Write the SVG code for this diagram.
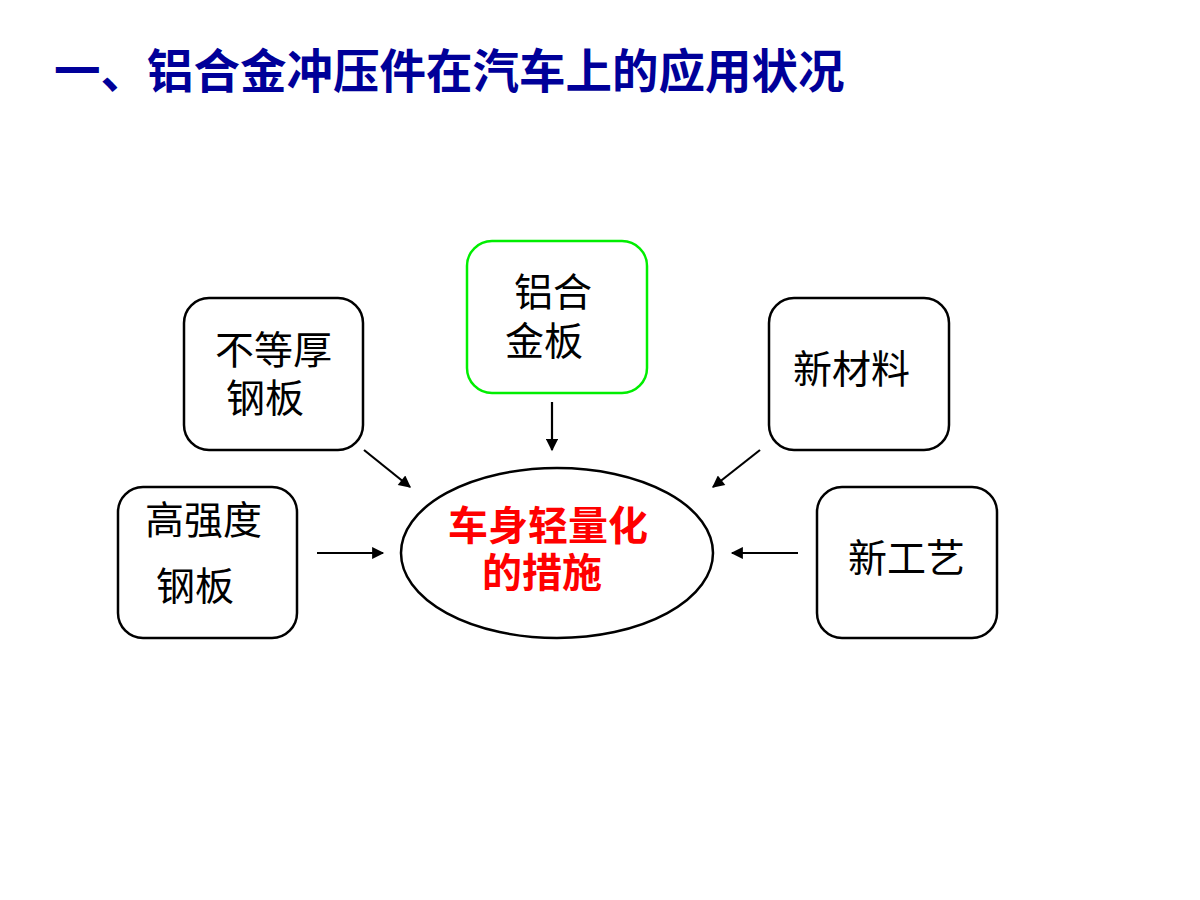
<svg xmlns="http://www.w3.org/2000/svg" width="1200" height="900" viewBox="0 0 1200 900">
<style>
.box{fill:#fff;stroke:#000;stroke-width:2.5}
.green{stroke:#00ee00}
.lbl{font-family:"Noto Sans CJK SC","Liberation Sans",sans-serif;font-size:39px;fill:#000}
.hub{font-family:"Noto Sans CJK SC","Liberation Sans",sans-serif;font-size:40px;font-weight:bold;fill:#ff0000}
.title{font-family:"Noto Sans CJK SC","Liberation Sans",sans-serif;font-size:46.5px;font-weight:bold;fill:#000099}
.conn{stroke:#000;stroke-width:2.2;fill:none;marker-end:url(#ah)}
</style>
<defs>
<marker id="ah" viewBox="0 0 10 10" refX="9" refY="5" markerWidth="6" markerHeight="5.5" orient="auto" markerUnits="strokeWidth">
<path d="M0,0 L10,5 L0,10 z" fill="#000"/>
</marker>
</defs>
<rect width="1200" height="900" fill="#fff"/>
<text class="title" x="54" y="88">一、铝合金冲压件在汽车上的应用状况</text>
<g id="connectors">
<line class="conn" x1="364" y1="450" x2="410" y2="487"/>
<line class="conn" x1="552" y1="402" x2="552" y2="450"/>
<line class="conn" x1="760" y1="450" x2="713" y2="487"/>
<line class="conn" x1="317" y1="553" x2="383" y2="553"/>
<line class="conn" x1="798" y1="553" x2="732" y2="553"/>
</g>
<g id="hub">
<ellipse cx="557" cy="553" rx="156" ry="85" fill="#fff" stroke="#000" stroke-width="2.5"/>
<text class="hub"><tspan x="448" y="540">车身轻量化</tspan><tspan x="482" y="587">的措施</tspan></text>
</g>
<g id="n-budenghou">
<rect class="box" x="184" y="298" width="179" height="152" rx="25"/>
<text class="lbl"><tspan x="215" y="364">不等厚</tspan><tspan x="226" y="412">钢板</tspan></text>
</g>
<g id="n-lvhejin">
<rect class="box green" x="467" y="241" width="180" height="152" rx="25"/>
<text class="lbl"><tspan x="514" y="306">铝合</tspan><tspan x="505" y="355">金板</tspan></text>
</g>
<g id="n-xincailiao">
<rect class="box" x="769" y="298" width="180" height="152" rx="25"/>
<text class="lbl" x="793" y="383">新材料</text>
</g>
<g id="n-gaoqiangdu">
<rect class="box" x="118" y="487" width="179" height="151" rx="25"/>
<text class="lbl"><tspan x="145" y="534">高强度</tspan><tspan x="156" y="600">钢板</tspan></text>
</g>
<g id="n-xingongyi">
<rect class="box" x="817" y="487" width="180" height="151" rx="25"/>
<text class="lbl" x="848" y="572">新工艺</text>
</g>
</svg>
